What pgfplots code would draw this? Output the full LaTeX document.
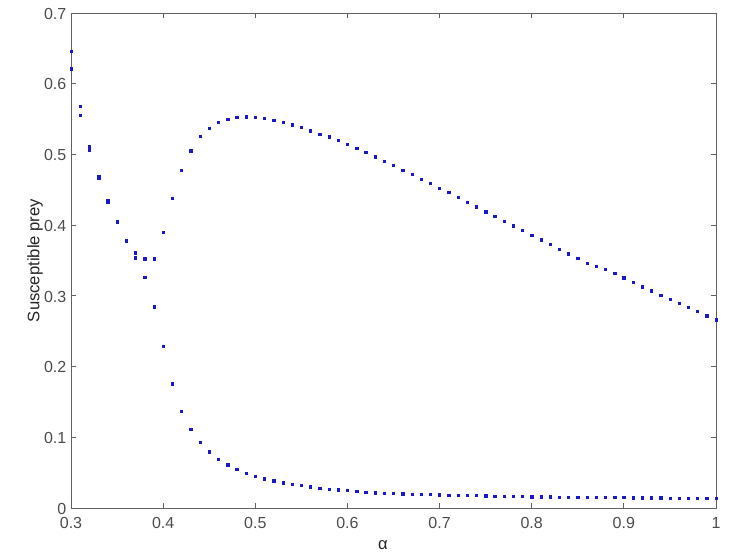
\documentclass[border=0pt]{standalone}
\usepackage{fontspec}
\setmainfont{Liberation Sans}
\usepackage{pgfplots}
\pgfplotsset{compat=1.18}
\usepackage{pgfplotstable}

\definecolor{dotblue}{rgb}{0.1,0.1,0.8}
\definecolor{axgray}{rgb}{0.38,0.38,0.38}
\definecolor{txtgray}{rgb}{0.3,0.3,0.3}

% upper set of points (upper of each pair, then the upper branch)
\pgfplotstableread{
a s
0.30 0.6454
0.31 0.5680
0.32 0.5110
0.33 0.4690
0.34 0.4347
0.35 0.4050
0.36 0.3790
0.37 0.3608
0.38 0.3524
0.39 0.3524
0.40 0.3895
0.41 0.4384
0.42 0.4780
0.43 0.5052
0.44 0.5254
0.45 0.5370
0.46 0.5450
0.47 0.5500
0.48 0.5522
0.49 0.5532
0.50 0.5527
0.51 0.5508
0.52 0.5485
0.53 0.5457
0.54 0.5419
0.55 0.5380
0.56 0.5334
0.57 0.5288
0.58 0.5250
0.59 0.5198
0.60 0.5147
0.61 0.5090
0.62 0.5028
0.63 0.4967
0.64 0.4907
0.65 0.4845
0.66 0.4780
0.67 0.4718
0.68 0.4653
0.69 0.4590
0.70 0.4526
0.71 0.4460
0.72 0.4393
0.73 0.4323
0.74 0.4258
0.75 0.4191
0.76 0.4125
0.77 0.4060
0.78 0.3990
0.79 0.3923
0.80 0.3857
0.81 0.3792
0.82 0.3726
0.83 0.3660
0.84 0.3597
0.85 0.3528
0.86 0.3462
0.87 0.3415
0.88 0.3378
0.89 0.3316
0.90 0.3256
0.91 0.3194
0.92 0.3129
0.93 0.3072
0.94 0.3010
0.95 0.2950
0.96 0.2893
0.97 0.2837
0.98 0.2780
0.99 0.2720
1.00 0.2663
}\uppertab

% lower set of points
\pgfplotstableread{
a s
0.30 0.6210
0.31 0.5556
0.32 0.5066
0.33 0.4670
0.34 0.4330
0.35 0.4036
0.36 0.3780
0.37 0.3538
0.38 0.3265
0.39 0.2846
0.40 0.2290
0.41 0.1755
0.42 0.1369
0.43 0.1110
0.44 0.0931
0.45 0.0795
0.46 0.0690
0.47 0.0610
0.48 0.0545
0.49 0.0494
0.50 0.0450
0.51 0.0414
0.52 0.0386
0.53 0.0357
0.54 0.0339
0.55 0.0320
0.56 0.0301
0.57 0.0282
0.58 0.0270
0.59 0.0259
0.60 0.0247
0.61 0.0235
0.62 0.0226
0.63 0.0216
0.64 0.0211
0.65 0.0206
0.66 0.0201
0.67 0.0197
0.68 0.0193
0.69 0.0190
0.70 0.0187
0.71 0.0183
0.72 0.0181
0.73 0.0178
0.74 0.0175
0.75 0.0173
0.76 0.0170
0.77 0.0167
0.78 0.0165
0.79 0.0162
0.80 0.0160
0.81 0.0158
0.82 0.0157
0.83 0.0155
0.84 0.0154
0.85 0.0152
0.86 0.0151
0.87 0.0150
0.88 0.0149
0.89 0.0148
0.90 0.0147
0.91 0.0146
0.92 0.0145
0.93 0.0144
0.94 0.0143
0.95 0.0142
0.96 0.0141
0.97 0.0140
0.98 0.0139
0.99 0.0138
1.00 0.0137
}\lowertab

\begin{document}
\begin{tikzpicture}
\begin{axis}[
  name=ax, at={(0,0)}, anchor=south west,
  scale only axis, width=483.75pt, height=371.25pt,
  xmin=0.3, xmax=1, ymin=0, ymax=0.7,
  xtick={0.3,0.4,...,1.0}, ytick={0,0.1,...,0.7},
  xticklabels={0.3,0.4,0.5,0.6,0.7,0.8,0.9,1},
  yticklabels={0,0.1,0.2,0.3,0.4,0.5,0.6,0.7},
  tick align=inside, major tick length=3.8pt,
  axis line style={axgray, line width=0.6pt},
  every tick/.style={axgray, line width=0.6pt},
  tick label style={font=\fontsize{12}{14}\selectfont, text=txtgray},
  xticklabel style={yshift=-3.5pt},
  yticklabel style={yshift=-0.5pt},
  label style={font=\fontsize{12.5}{15}\selectfont, text=black!85},
  xlabel={α}, ylabel={Susceptible prey},
  xlabel style={yshift=-2pt, xshift=-8pt},
  ylabel style={yshift=-6pt},
  clip=false,
]
\addplot[only marks, mark=square*, mark size=0.85pt, dotblue] table[x=a, y=s] {\uppertab};
\addplot[only marks, mark=square*, mark size=0.85pt, dotblue] table[x=a, y=s] {\lowertab};
\end{axis}
\path (-53.25pt,-36.75pt) rectangle (501.75pt,381pt);
\end{tikzpicture}
\end{document}
